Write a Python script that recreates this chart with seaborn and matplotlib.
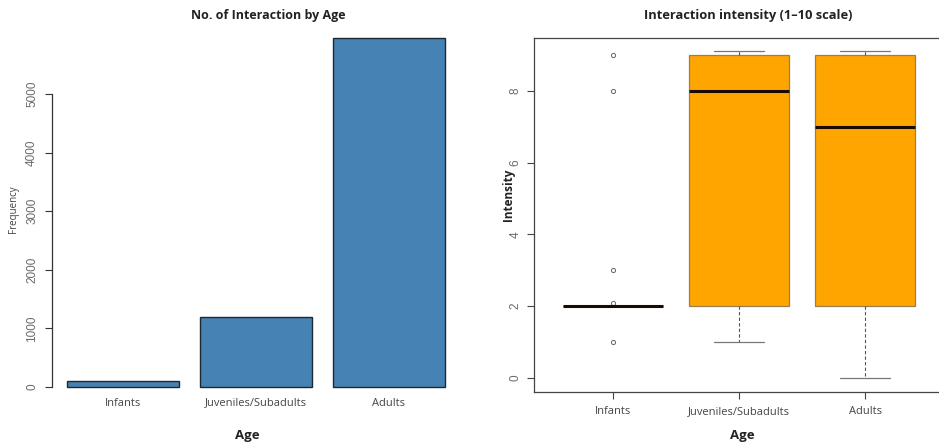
import numpy as np
import pandas as pd
import matplotlib
matplotlib.use("Agg")
import matplotlib.pyplot as plt
import seaborn as sns

# ---- data -------------------------------------------------------------
age_groups = ["Infants", "Juveniles/Subadults", "Adults"]
interaction_counts = [100, 1200, 5950]

# five-number summaries of interaction intensity per age group
whisker_low = [2, 1, 0]
quartile_1 = [2, 2, 2]
median_intensity = [2, 8, 7]
quartile_3 = [2, 9, 9]
whisker_high = [2, 9.1, 9.1]
outlier_values = [[1, 2.1, 3, 8, 9], [], []]

freq_ticks = [0, 1000, 2000, 3000, 4000, 5000]
intensity_ticks = [0, 2, 4, 6, 8]

# observation table whose quartiles / whiskers reproduce the summaries
rows = []
for i, grp in enumerate(age_groups):
    block = [whisker_low[i], quartile_1[i], quartile_1[i], median_intensity[i],
             quartile_3[i], quartile_3[i], whisker_high[i]] * 4
    for v in block + outlier_values[i]:
        rows.append((grp, v))
intensity_df = pd.DataFrame(rows, columns=["Age", "Intensity"])
count_df = pd.DataFrame({"Age": age_groups, "Frequency": interaction_counts})

# ---- figure -----------------------------------------------------------
W, H = 939, 445
sns.set_theme(style="white")
plt.rcParams["font.family"] = ["Open Sans", "DejaVu Sans"]

fig = plt.figure(figsize=(W / 100, H / 100), dpi=100)
fig.patch.set_facecolor("white")


def box(left, top, right, bottom):
    return [left / W, 1 - bottom / H, (right - left) / W, (bottom - top) / H]


label_font = ["Open Sans", "DejaVu Sans"]
num_font = ["Liberation Sans", "DejaVu Sans"]
tick_grey = "#6a6a6a"

# ---- left: bar chart of counts ---------------------------------------
ax1 = fig.add_axes(box(52, 24, 460, 392))
sns.barplot(data=count_df, x="Age", y="Frequency", order=age_groups, ax=ax1,
            color="#4682B4", saturation=1, width=0.842,
            edgecolor="#1e2830", linewidth=1.0)
ax1.set_xlim(-0.534, 2.534)
ax1.set_ylim(-85, 6195)
for s in ["top", "right", "bottom"]:
    ax1.spines[s].set_visible(False)
ax1.spines["left"].set_bounds(0, 5000)
ax1.spines["left"].set_color("#333333")
ax1.spines["left"].set_linewidth(0.9)
ax1.set_yticks(freq_ticks)
ax1.set_yticklabels([str(t) for t in freq_ticks], rotation=90, va="center",
                    color=tick_grey, fontsize=8.5, family=num_font)
ax1.tick_params(axis="y", left=True, length=5, width=0.8, color="#333333", pad=5)
ax1.tick_params(axis="x", bottom=False, length=0, pad=4)
for lbl in ax1.get_xticklabels():
    lbl.set_fontsize(8)
    lbl.set_color("#444444")
    lbl.set_family(label_font)
ax1.set_xlabel("")
ax1.set_ylabel("")
fig.text(13 / W, 1 - 209 / H, "Frequency", rotation=90, ha="center", va="center",
         fontsize=7, color="#444444", family=label_font)
fig.text(247 / W, 1 - 435 / H, "Age", ha="center", va="center",
         fontsize=9.5, fontweight="bold", color="#222222", family=label_font)
fig.text(268 / W, 1 - 15 / H, "No. of Interaction by Age", ha="center", va="center",
         fontsize=9, fontweight="bold", color="#222222", family=label_font)

# ---- right: box plot of intensity ------------------------------------
ax2 = fig.add_axes(box(534, 38, 943, 392))
sns.boxplot(data=intensity_df, x="Age", y="Intensity", order=age_groups, ax=ax2,
            color="#FFA500", saturation=1, width=0.8, whis=1.5,
            linecolor="#9a7d55", linewidth=0.9, fliersize=3,
            medianprops=dict(color="#1a0a00", linewidth=2.2),
            whiskerprops=dict(color="#555555", linestyle=(0, (3, 2)), linewidth=0.8),
            capprops=dict(color="#777777", linewidth=0.9),
            flierprops=dict(marker="o", markerfacecolor="none",
                            markeredgecolor="#666666", markeredgewidth=0.7))
ax2.set_xlim(-0.627, 2.619)
ax2.set_ylim(-0.39, 9.47)
for s in ax2.spines.values():
    s.set_visible(True)
    s.set_color("#444444")
    s.set_linewidth(0.9)
ax2.set_yticks(intensity_ticks)
ax2.set_yticklabels([str(t) for t in intensity_ticks], rotation=90, va="center",
                    color=tick_grey, fontsize=8.5, family=num_font)
ax2.tick_params(axis="y", left=True, length=5, width=0.8, color="#444444", pad=4)
ax2.tick_params(axis="x", bottom=True, length=5, width=0.8, color="#444444", pad=5)
for lbl in ax2.get_xticklabels():
    lbl.set_fontsize(8)
    lbl.set_color("#444444")
    lbl.set_family(label_font)
ax2.set_xlabel("")
ax2.set_ylabel("")
fig.text(509 / W, 1 - 195 / H, "Intensity", rotation=90, ha="center", va="center",
         fontsize=8.5, fontweight="bold", color="#222222", family=label_font)
fig.text(742 / W, 1 - 435 / H, "Age", ha="center", va="center",
         fontsize=9.5, fontweight="bold", color="#222222", family=label_font)
fig.text(748 / W, 1 - 15 / H, "Interaction intensity (1\u201310 scale)", ha="center",
         va="center", fontsize=9.3, fontweight="bold", color="#222222", family=label_font)

fig.savefig("out.png", dpi=100, facecolor="white")
